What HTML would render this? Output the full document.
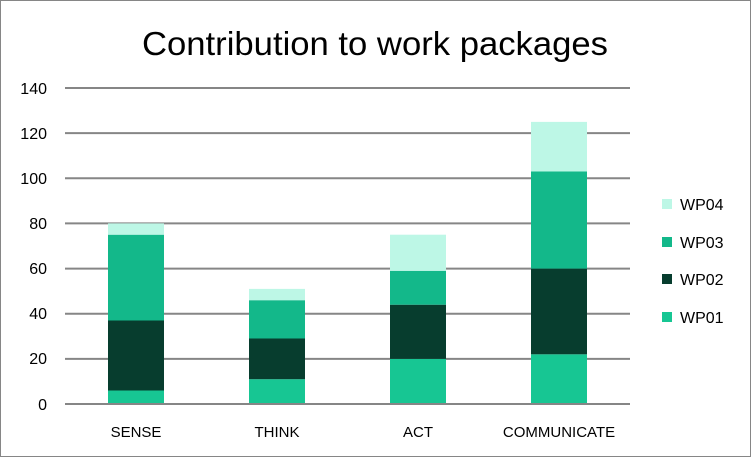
<!DOCTYPE html>
<html><head><style>body{margin:0;background:#fff}svg{display:block}</style></head><body>
<svg width="751" height="457" xmlns="http://www.w3.org/2000/svg" font-family="Liberation Sans, sans-serif">
<rect x="0.5" y="0.5" width="750" height="456" fill="#fff" stroke="#868686"/>
<text x="375" y="55" font-size="33" text-anchor="middle" fill="#000" textLength="466" lengthAdjust="spacingAndGlyphs">Contribution to work packages</text>
<g stroke="#868686" stroke-width="2">
<line x1="65" y1="88" x2="630" y2="88"/><line x1="65" y1="133.1" x2="630" y2="133.1"/>
<line x1="65" y1="178.3" x2="630" y2="178.3"/><line x1="65" y1="223.4" x2="630" y2="223.4"/>
<line x1="65" y1="268.6" x2="630" y2="268.6"/><line x1="65" y1="313.7" x2="630" y2="313.7"/>
<line x1="65" y1="358.9" x2="630" y2="358.9"/><line x1="65" y1="404" x2="630" y2="404"/>
</g>
<g font-size="16" text-anchor="end" fill="#000">
<text x="47" y="94">140</text><text x="47" y="139">120</text><text x="47" y="184">100</text>
<text x="47" y="229">80</text><text x="47" y="274">60</text><text x="47" y="319">40</text>
<text x="47" y="364">20</text><text x="47" y="410">0</text>
</g>
<rect x="108" y="390.5" width="56" height="13.5" fill="#17c693"/>
<rect x="108" y="320.5" width="56" height="70" fill="#073d2e"/>
<rect x="108" y="234.7" width="56" height="85.8" fill="#13b88a"/>
<rect x="108" y="223.4" width="56" height="11.3" fill="#bdf7e6"/>
<rect x="249" y="379.2" width="56" height="24.8" fill="#17c693"/>
<rect x="249" y="338.5" width="56" height="40.7" fill="#073d2e"/>
<rect x="249" y="300.2" width="56" height="38.3" fill="#13b88a"/>
<rect x="249" y="288.9" width="56" height="11.3" fill="#bdf7e6"/>
<rect x="390" y="358.9" width="56" height="45.1" fill="#17c693"/>
<rect x="390" y="304.7" width="56" height="54.2" fill="#073d2e"/>
<rect x="390" y="270.8" width="56" height="33.9" fill="#13b88a"/>
<rect x="390" y="234.7" width="56" height="36.1" fill="#bdf7e6"/>
<rect x="531" y="354.3" width="56" height="49.7" fill="#17c693"/>
<rect x="531" y="268.6" width="56" height="85.7" fill="#073d2e"/>
<rect x="531" y="171.5" width="56" height="97.1" fill="#13b88a"/>
<rect x="531" y="121.9" width="56" height="49.6" fill="#bdf7e6"/>
<line x1="65" y1="404" x2="630" y2="404" stroke="#868686" stroke-width="2"/>
<g font-size="15" text-anchor="middle" fill="#000">
<text x="136" y="437">SENSE</text><text x="277" y="437">THINK</text>
<text x="418" y="437">ACT</text><text x="559" y="437">COMMUNICATE</text>
</g>
<rect x="662" y="199" width="10" height="10" fill="#bdf7e6"/>
<rect x="662" y="237" width="10" height="10" fill="#13b88a"/>
<rect x="662" y="274" width="10" height="10" fill="#073d2e"/>
<rect x="662" y="312" width="10" height="10" fill="#17c693"/>
<g font-size="16" fill="#000">
<text x="680" y="210">WP04</text><text x="680" y="248">WP03</text>
<text x="680" y="285">WP02</text><text x="680" y="323">WP01</text>
</g>
</svg>
</body></html>
